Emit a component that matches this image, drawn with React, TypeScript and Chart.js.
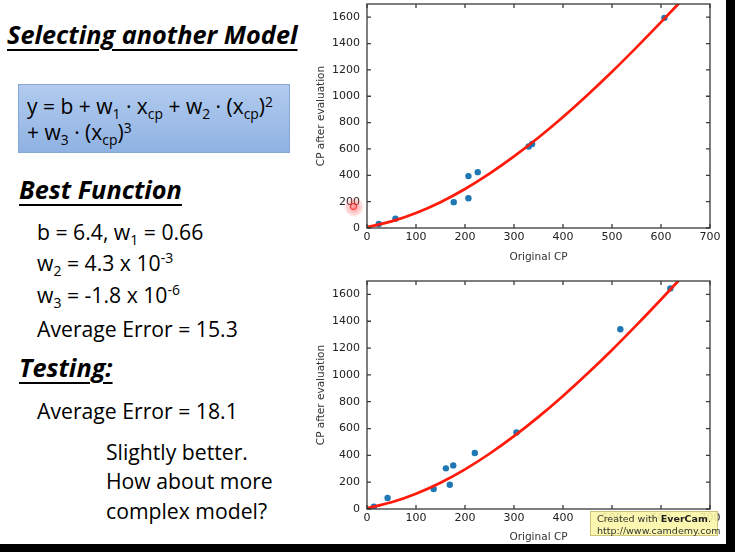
import React, { useEffect, useRef } from "react";
import { Chart, registerables } from "chart.js";

Chart.register(...registerables);

// ---- data ----
const xTickValues = [0, 100, 200, 300, 400, 500, 600, 700];
const yTickValues = [0, 200, 400, 600, 800, 1000, 1200, 1400, 1600];

// upper plot (training data)
const trainX = [24, 58, 177, 207, 207, 226, 330, 337, 607];
const trainY = [30, 70, 196, 226, 394, 424, 618, 638, 1595];

// lower plot (testing data)
const testX = [14, 42, 136, 161, 169, 176, 220, 305, 517, 619];
const testY = [17, 82, 149, 303, 181, 325, 417, 571, 1340, 1645];

// fitted red curve
const curveX = [0, 50, 100, 150, 200, 250, 300, 350, 400, 450, 500, 550, 600, 650];
const curveY = [6, 50, 114, 196, 296, 412, 543, 687, 843, 1010, 1186, 1371, 1562, 1758];

const framePlugin = {
  id: "frameTicks",
  afterDraw(chart: any) {
    const { ctx, chartArea, scales } = chart;
    const { left, right, top, bottom } = chartArea;
    const xs = scales.x;
    const ys = scales.y;
    ctx.save();
    ctx.strokeStyle = "#3a3a3a";
    ctx.lineWidth = 1.3;
    ctx.strokeRect(left, top, right - left, bottom - top);
    ctx.beginPath();
    const L = 4;
    xTickValues.forEach((v) => {
      const p = xs.getPixelForValue(v);
      ctx.moveTo(p, bottom);
      ctx.lineTo(p, bottom - L);
      ctx.moveTo(p, top);
      ctx.lineTo(p, top + L);
    });
    yTickValues.forEach((v) => {
      const p = ys.getPixelForValue(v);
      ctx.moveTo(left, p);
      ctx.lineTo(left + L, p);
      ctx.moveTo(right, p);
      ctx.lineTo(right - L, p);
    });
    ctx.stroke();
    ctx.restore();
  },
};

type PlotProps = {
  left: number;
  top: number;
  width: number;
  height: number;
  padTop: number;
  xAxisH: number;
  xTitlePad: number;
  px: number[];
  py: number[];
};

function FitPlot(props: PlotProps) {
  const ref = useRef<HTMLCanvasElement>(null);
  useEffect(() => {
    const tickFont = { family: "DejaVu Sans", size: 11 };
    const titleFont = { family: "DejaVu Sans", size: 10.5 };
    const chart = new Chart(ref.current as HTMLCanvasElement, {
      type: "scatter",
      data: {
        datasets: [
          {
            type: "line",
            data: curveX.map((x, i) => ({ x, y: curveY[i] })),
            borderColor: "#ff1a0a",
            borderWidth: 2.7,
            pointRadius: 0,
            cubicInterpolationMode: "monotone",
            fill: false,
          } as any,
          {
            type: "scatter",
            data: props.px.map((x, i) => ({ x, y: props.py[i] })),
            backgroundColor: "#1f77b4",
            borderColor: "#1f77b4",
            borderWidth: 0,
            pointRadius: 3.2,
          } as any,
        ],
      },
      options: {
        responsive: false,
        animation: false,
        events: [],
        layout: { padding: { top: props.padTop, right: 16, left: 0, bottom: 0 } },
        plugins: { legend: { display: false }, tooltip: { enabled: false } },
        scales: {
          x: {
            type: "linear",
            min: 0,
            max: 700,
            grid: { display: false, drawTicks: false },
            border: { display: false },
            ticks: {
              stepSize: 100,
              includeBounds: false,
              padding: 3,
              maxRotation: 0,
              color: "#222",
              font: tickFont,
              callback: (v: any) => String(v),
            },
            title: {
              display: true,
              text: "Original CP",
              color: "#333",
              font: titleFont,
              padding: { top: 0, bottom: props.xTitlePad },
            },
            afterFit: (s: any) => {
              s.height = props.xAxisH;
              s.paddingLeft = 0;
              s.paddingRight = 0;
            },
          },
          y: {
            type: "linear",
            min: 0,
            max: 1700,
            grid: { display: false, drawTicks: false },
            border: { display: false },
            ticks: {
              stepSize: 200,
              includeBounds: false,
              padding: 7,
              color: "#222",
              font: tickFont,
              callback: (v: any) => String(v),
            },
            title: {
              display: true,
              text: "CP after evaluation",
              color: "#333",
              font: titleFont,
              padding: { top: 4.7, bottom: 0 },
            },
            afterFit: (s: any) => {
              s.width = 57;
              s.paddingTop = 0;
              s.paddingBottom = 0;
            },
          },
        },
      } as any,
      plugins: [framePlugin],
    });
    return () => chart.destroy();
  }, []);
  return (
    <canvas
      ref={ref}
      width={props.width}
      height={props.height}
      style={{ position: "absolute", left: props.left, top: props.top }}
    />
  );
}

const ASC = 0.888;

function Line(p: {
  x: number;
  base: number;
  size: number;
  bold?: boolean;
  italic?: boolean;
  underline?: boolean;
  children: React.ReactNode;
}) {
  return (
    <div
      style={{
        position: "absolute",
        left: p.x,
        top: p.base - ASC * p.size,
        fontSize: p.size,
        lineHeight: 1,
        whiteSpace: "nowrap",
        fontWeight: p.bold ? 700 : 400,
        fontStyle: p.italic ? "italic" : "normal",
        textDecoration: p.underline ? "underline" : "none",
        textDecorationThickness: p.underline ? "1.6px" : undefined,
        textUnderlineOffset: p.underline ? "5px" : undefined,
        color: "#000",
      }}
    >
      {p.children}
    </div>
  );
}

const Sub = (p: { children: React.ReactNode }) => (
  <span style={{ fontSize: "0.66em", position: "relative", top: "0.32em" }}>{p.children}</span>
);
const Sup = (p: { children: React.ReactNode }) => (
  <span style={{ fontSize: "0.66em", position: "relative", top: "-0.55em" }}>{p.children}</span>
);

export default function App() {
  const body = 21.2;
  const formula = 21;
  const head = 25.3;
  return (
    <div
      style={{
        position: "fixed",
        left: 0,
        top: 0,
        width: 735,
        height: 552,
        background: "#ffffff",
        overflow: "hidden",
        fontFamily: "'Open Sans', Lato, sans-serif",
      }}
    >
      <Line x={7} base={44} size={head} bold italic underline>
        Selecting another Model
      </Line>

      <div
        style={{
          position: "absolute",
          left: 18,
          top: 84,
          width: 270,
          height: 67,
          background: "linear-gradient(#b2cbee, #8fb2e3)",
          border: "1px solid #86a6d4",
        }}
      />
      <Line x={27} base={115} size={formula}>
        y = b + w<Sub>1</Sub> · x<Sub>cp</Sub> + w<Sub>2</Sub> · (x<Sub>cp</Sub>)<Sup>2</Sup>
      </Line>
      <Line x={27} base={141} size={formula}>
        + w<Sub>3</Sub> · (x<Sub>cp</Sub>)<Sup>3</Sup>
      </Line>

      <Line x={19} base={199} size={head} bold italic underline>
        Best Function
      </Line>
      <Line x={37} base={240} size={body}>
        b = 6.4, w<Sub>1</Sub> = 0.66
      </Line>
      <Line x={37} base={271} size={body}>
        w<Sub>2</Sub> = 4.3 x 10<Sup>-3</Sup>
      </Line>
      <Line x={37} base={303} size={body}>
        w<Sub>3</Sub> = -1.8 x 10<Sup>-6</Sup>
      </Line>
      <Line x={37} base={337} size={body}>
        Average Error = 15.3
      </Line>
      <Line x={19} base={377} size={head} bold italic underline>
        Testing:
      </Line>
      <Line x={37} base={419} size={body}>
        Average Error = 18.1
      </Line>
      <Line x={106} base={460} size={body}>
        Slightly better.
      </Line>
      <Line x={106} base={489} size={body}>
        How about more
      </Line>
      <Line x={106} base={519} size={body}>
        complex model?
      </Line>

      <FitPlot left={310} top={0} width={416} height={270} padTop={0} xAxisH={42} xTitlePad={6.7} px={trainX} py={trainY} />
      <FitPlot left={310} top={270} width={416} height={274} padTop={11} xAxisH={35} xTitlePad={0.7} px={testX} py={testY} />

      {/* cursor highlight */}
      <div
        style={{
          position: "absolute",
          left: 344,
          top: 197,
          width: 20,
          height: 20,
          borderRadius: "50%",
          background: "radial-gradient(circle, rgba(255,60,60,0.55) 0%, rgba(255,120,120,0.25) 55%, rgba(255,255,255,0) 72%)",
        }}
      />
      <div
        style={{
          position: "absolute",
          left: 350,
          top: 203,
          width: 5,
          height: 5,
          borderRadius: "50%",
          border: "1.6px solid #ff1010",
        }}
      />

      {/* recorder badge */}
      <div
        style={{
          position: "absolute",
          left: 590,
          top: 511,
          width: 128,
          height: 25,
          background: "rgba(250,246,165,0.88)",
          border: "1px solid rgba(200,190,110,0.9)",
          fontFamily: "'DejaVu Sans', sans-serif",
          fontSize: 9.5,
          color: "#333",
          lineHeight: "12px",
          paddingLeft: 6,
          paddingTop: 1,
          boxSizing: "border-box",
        }}
      >
        <div>
          Created with <b style={{ color: "#222" }}>EverCam</b>.
        </div>
        <div>http://www.camdemy.com</div>
      </div>

      {/* dark frame edges */}
      <div style={{ position: "absolute", left: 726, top: 0, width: 9, height: 552, background: "#000" }} />
      <div style={{ position: "absolute", left: 0, top: 544, width: 735, height: 8, background: "#000" }} />
    </div>
  );
}
